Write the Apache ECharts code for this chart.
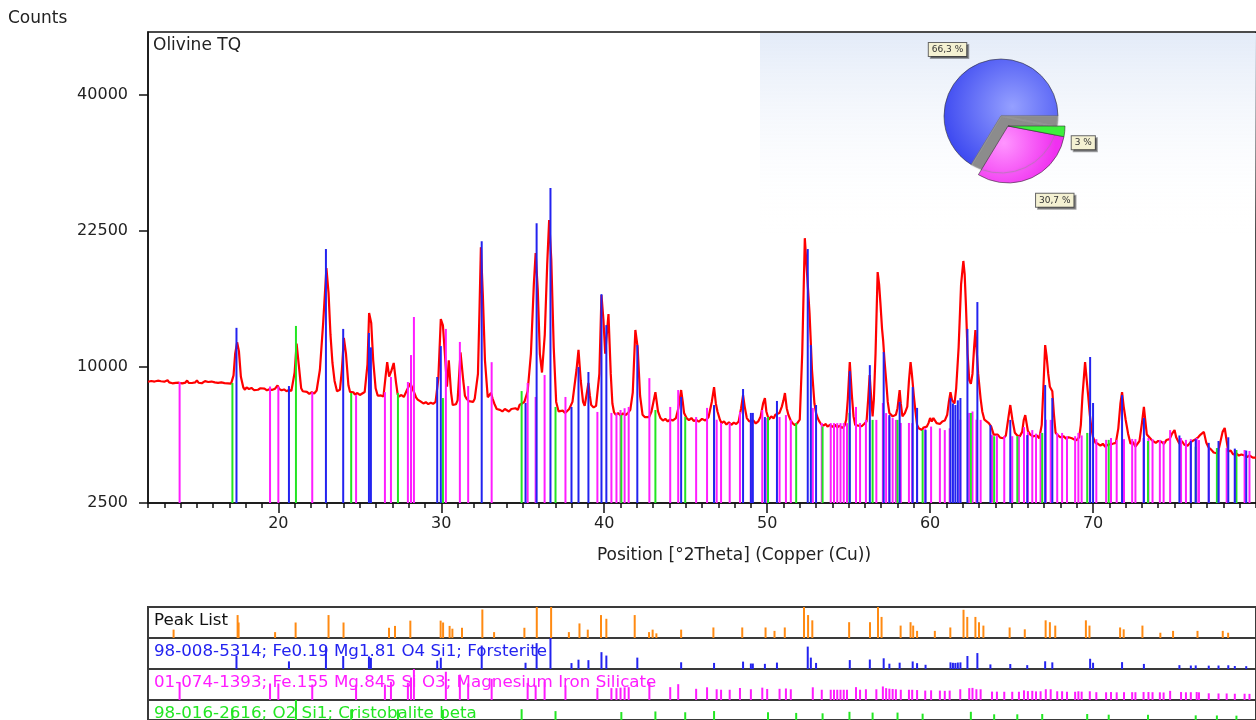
<!DOCTYPE html>
<html>
<head>
<meta charset="utf-8">
<script src="https://cdn.jsdelivr.net/npm/echarts@6/dist/echarts.min.js"></script>
<style>
html, body { margin: 0; padding: 0; background: #fff; }
#main { width: 1256px; height: 720px; }
</style>
</head>
<body>
<div id="main"></div>
<script>
// measured profile, [2theta, counts]
var profile = [[12.0,8950],[12.1,8820],[12.2,9000],[12.3,8870],[12.4,8960],[12.5,8850],[12.6,9020],[12.7,8900],[12.8,8980],[12.9,8860],[13.0,8950],[13.1,8880],[13.2,9050],[13.3,8900],[13.4,8960],[13.5,8840],[13.6,8930],[13.7,8870],[13.8,9000],[13.9,8880],[14.0,8940],[14.1,8830],[14.2,8960],[14.3,8890],[14.4,9030],[14.5,8870],[14.6,8950],[14.7,8860],[14.8,8980],[14.9,8900],[15.0,9040],[15.1,8880],[15.2,8950],[15.3,8840],[15.4,8920],[15.5,8990],[15.6,8860],[15.7,8930],[15.8,8820],[15.9,8960],[16.0,8850],[16.1,8900],[16.2,8800],[16.3,8870],[16.4,8780],[16.5,8900],[16.6,8790],[16.7,8850],[16.8,8760],[16.9,8840],[17.0,8770],[17.1,8820],
[17.25,9400],[17.35,11000],[17.47,11900],[17.58,11200],[17.7,9300],[17.85,8550],[17.95,8400],[18.05,8560],[18.2,8450],[18.35,8520],[18.5,8380],[18.6,8470],[18.75,8400],[18.9,8500],[19.0,8390],[19.15,8480],[19.3,8360],[19.45,8440],[19.6,8380],[19.8,8470],[19.95,8700],[20.05,8450],[20.2,8360],[20.35,8420],[20.5,8300],[20.65,8390],[20.8,8320],[20.9,8450],[21.0,9600],[21.12,11800],[21.25,10200],[21.4,8500],[21.5,8300],[21.6,8180],[21.75,8260],[21.9,8120],[22.05,8230],[22.2,8150],[22.35,8350],[22.55,9800],[22.75,13500],[22.95,18600],[23.08,16200],[23.2,12500],[23.32,10300],[23.45,9000],[23.6,8300],[23.7,8200],[23.78,8400],[23.9,9800],[24.02,12250],[24.15,11000],[24.3,8700],[24.4,8250],[24.5,8150],[24.6,8230],[24.7,8080],[24.85,8180],[25.0,8050],[25.15,8150],[25.3,8250],[25.47,10200],[25.57,14370],[25.7,13500],[25.82,10500],[25.97,8500],[26.1,8000],[26.2,7900],[26.3,8020],[26.45,7950],[26.58,9300],[26.68,10360],[26.8,9300],[26.93,9700],[27.08,10300],[27.22,8900],[27.32,8100],[27.4,7950],[27.55,8050],[27.7,7920],[27.9,8400],[28.1,8850],[28.3,8300],[28.45,7900],[28.55,7750],[28.7,7650],[28.8,7580],[28.9,7500],[29.05,7580],[29.2,7460],[29.35,7550],[29.5,7480],[29.65,7600],
[29.82,9200],[29.97,13830],[30.1,13300],[30.22,11000],[30.35,8600],[30.46,10500],[30.6,8200],[30.7,7400],[30.8,7300],[30.9,7450],[31.0,7700],[31.18,11100],[31.35,9000],[31.45,8000],[31.55,7800],[31.7,7650],[31.8,7700],[31.95,7600],[32.05,7800],[32.25,9500],[32.35,15000],[32.43,20760],[32.55,16000],[32.68,10500],[32.85,7900],[33.05,8180],[33.15,7800],[33.25,7500],[33.4,7150],[33.5,7050],[33.6,7100],[33.75,7000],[33.9,7150],[34.0,7120],[34.15,7000],[34.3,7150],[34.4,7080],[34.55,7200],[34.7,7100],[34.8,7400],[34.95,7500],[35.1,7600],[35.3,8300],[35.5,11000],[35.68,17000],[35.79,20140],[35.92,16500],[36.05,11000],[36.18,9600],[36.35,12500],[36.5,19000],[36.62,23720],[36.75,19500],[36.9,11500],
[37.05,7600],[37.2,7000],[37.3,6900],[37.45,7050],[37.6,6900],[37.7,7000],[37.85,7150],[38.05,7600],[38.3,9800],[38.42,11300],[38.56,9000],[38.7,7600],[38.8,7350],[38.95,8300],[39.03,8860],[39.12,8000],[39.2,7400],[39.35,7250],[39.5,7350],[39.7,9500],[39.83,16000],[39.95,13800],[40.06,11000],[40.26,14280],[40.4,9500],[40.5,7500],[40.6,6950],[40.7,6800],[40.85,6900],[41.0,6750],[41.15,6880],[41.3,6780],[41.45,6900],[41.6,7100],[41.75,8200],[41.91,12910],[42.05,11500],[42.2,8000],[42.35,6800],[42.5,6650],[42.6,6750],[42.75,6650],[42.9,7000],[43.0,7500],[43.14,8240],[43.3,7000],[43.45,6600],[43.6,6450],[43.75,6550],[43.9,6400],[44.05,6520],[44.2,6450],[44.4,6600],[44.55,7200],[44.72,8380],[44.82,7600],[44.9,6900],[45.05,6600],[45.2,6480],[45.35,6600],[45.5,6420],[45.65,6500],[45.8,6380],[46.0,6550],[46.2,6450],[46.4,6650],[46.6,7600],[46.74,8580],[46.85,7500],[46.95,7000],[47.1,6500],[47.2,6300],[47.35,6400],[47.5,6220],[47.65,6350],[47.8,6200],[47.95,6330],[48.1,6250],[48.25,6400],[48.4,7200],[48.52,8040],[48.62,7300],[48.75,6600],[48.9,6400],[49.0,6300],[49.15,6450],[49.3,6280],[49.45,6400],[49.6,6700],[49.75,7500],[49.86,7850],[49.95,7000],[50.1,6500],[50.25,6700],[50.4,6580],[50.5,6800],[50.6,6700],[50.75,6900],[50.9,7300],[51.0,7700],[51.09,8180],[51.2,7200],[51.3,6800],[51.45,6450],[51.55,6300],[51.7,6190],[51.85,6300],[52.0,6500],
[52.15,11000],[52.31,21720],[52.45,18000],[52.6,14370],[52.75,9800],[52.9,7500],[53.0,6900],[53.1,6600],[53.2,6400],[53.3,6250],[53.45,6150],[53.6,6250],[53.7,6100],[53.85,6200],[54.0,6080],[54.15,6200],[54.3,6050],[54.45,6150],[54.6,6020],[54.75,6150],[54.85,6500],[54.95,7800],[55.07,10360],[55.2,8000],[55.3,6700],[55.4,6200],[55.5,6300],[55.6,6150],[55.7,6250],[55.8,6120],[55.95,6250],[56.1,6400],[56.2,7800],[56.29,9420],[56.4,7600],[56.47,6700],[56.55,7800],[56.65,11000],[56.78,18200],[56.87,17000],[56.95,15250],[57.05,13000],[57.12,12000],[57.2,10500],[57.3,9060],[57.4,7600],[57.5,6900],[57.6,7000],[57.7,6700],[57.8,6600],[57.9,6800],[58.0,7200],[58.13,8380],[58.2,7500],[58.3,6700],[58.45,6900],[58.6,7300],[58.7,9000],[58.8,10360],[58.88,9500],[59.0,8000],[59.1,7000],[59.2,6200],[59.3,6000],[59.4,6100],[59.5,5900],[59.6,6050],[59.7,5950],[59.8,6100],[59.9,6300],[60.0,6600],[60.1,6400],[60.2,6600],[60.3,6450],[60.4,6300],[60.5,6400],[60.6,6250],[60.75,6400],[60.9,6450],[61.05,6800],[61.15,7600],[61.25,8240],[61.35,7700],[61.5,7500],[61.6,8500],[61.75,11500],[61.9,17000],[62.04,19320],[62.12,18000],[62.2,15000],[62.3,11000],[62.4,9060],[62.5,8800],[62.6,9500],[62.7,11500],[62.78,12900],[62.87,11000],[62.95,9500],[63.1,7800],[63.2,7000],[63.33,6500],[63.45,6400],[63.6,6300],[63.75,6100],[63.9,5650],[64.0,5550],[64.15,5650],[64.3,5480],[64.5,5450],[64.65,5600],[64.8,6600],[64.92,7400],[65.05,6500],[65.2,5750],[65.35,5600],[65.5,5550],[65.65,5800],[65.75,6500],[65.84,6780],[65.92,6300],[66.0,5850],[66.15,5650],[66.3,5550],[66.4,5500],[66.55,5600],[66.7,5450],[66.85,6200],[66.95,8500],[67.06,11680],[67.15,10800],[67.25,9500],[67.35,8600],[67.5,8300],[67.6,6800],[67.7,5750],[67.85,5600],[68.0,5500],[68.2,5550],[68.35,5420],[68.5,5500],[68.7,5450],[68.85,5380],[69.0,5350],[69.15,5500],[69.25,6200],[69.35,8000],[69.51,10360],[69.6,9200],[69.7,8000],[69.8,6800],[69.9,6000],[70.0,5500],[70.15,5200],[70.3,5150],[70.45,5050],[70.6,5150],[70.75,5000],[70.9,5100],[71.0,5050],[71.2,5150],[71.4,5200],[71.55,6000],[71.68,7500],[71.78,8240],[71.88,7300],[72.0,6500],[72.15,5700],[72.3,5150],[72.45,5250],[72.6,5000],[72.7,5000],[72.85,5300],[73.0,6300],[73.12,7280],[73.2,6500],[73.3,5650],[73.45,5500],[73.6,5350],[73.7,5350],[73.85,5200],[74.0,5300],[74.2,5250],[74.35,5150],[74.5,5350],[74.7,5400],[74.85,5700],[75.0,5900],[75.1,5500],[75.3,5150],[75.45,5300],[75.6,5100],[75.8,5050],[75.95,5200],[76.1,5300],[76.3,5400],[76.45,5500],[76.6,5650],[76.8,5800],[76.95,5200],[77.1,4950],[77.25,4850],[77.4,4700],[77.5,4750],[77.65,4650],[77.8,5200],[77.95,5800],[78.08,6020],[78.2,5300],[78.3,4750],[78.45,4800],[78.6,4600],[78.8,4650],[78.95,4550],[79.1,4600],[79.3,4550],[79.45,4480],[79.6,4550],[79.8,4450],[80.0,4450]];

// reference patterns, [2theta, counts at stick top]
var forsterite = [[17.43,13090],[20.65,8650],[22.92,20560],[23.98,13000],[25.56,12660],[25.68,11500],[29.75,9280],[29.97,11600],[32.48,21400],[35.17,7530],[35.85,23380],[36.7,27490],[37.99,7280],[38.42,10000],[39.03,9640],[39.83,16080],[40.13,13320],[42.03,11680],[44.72,7920],[46.74,7400],[48.52,8450],[49.0,6910],[49.12,6910],[49.86,6660],[50.6,7660],[52.49,20560],[52.68,11680],[53.0,7400],[55.07,9700],[56.3,10140],[57.15,11130],[57.5,6780],[58.13,7600],[58.93,8580],[59.2,7220],[59.72,5900],[61.25,7850],[61.4,7500],[61.55,7400],[61.7,7700],[61.86,7850],[62.29,13000],[62.9,15350],[63.7,6190],[64.92,6490],[65.96,5620],[67.06,8720],[67.5,7850],[69.82,10750],[70.0,7530],[71.78,8040],[73.12,6600],[75.3,5600],[76.0,5300],[76.3,5400],[77.1,5200],[77.7,5300],[78.3,5500],[78.7,4900],[79.4,4800]];

var mis = [[13.94,8930],[19.49,8620],[20.0,8620],[22.08,8240],[24.77,8040],[26.54,8240],[26.91,9280],[27.95,8930],[28.14,10900],[28.32,14020],[30.28,13000],[31.14,11930],[31.65,8650],[33.09,10360],[35.3,8860],[35.79,7920],[36.34,9420],[37.62,7920],[39.58,6970],[40.44,6910],[40.75,6910],[41.0,7090],[41.25,7200],[41.5,7280],[42.77,9200],[44.05,7280],[44.54,8380],[45.64,6660],[46.31,7220],[46.9,6500],[47.17,6310],[47.7,6310],[48.33,6970],[49.0,6500],[49.7,7090],[50.0,6600],[50.76,6660],[51.15,6780],[51.45,6490],[52.8,7220],[53.35,6310],[53.9,6300],[54.1,6300],[54.3,6300],[54.5,6300],[54.7,6300],[54.9,6300],[55.45,7280],[55.7,6310],[56.06,6490],[56.7,6490],[57.1,7530],[57.3,6900],[57.5,6700],[57.7,6600],[57.9,6490],[58.2,6310],[58.7,6310],[58.9,6300],[59.2,6200],[59.7,6000],[60.06,6100],[60.6,6000],[60.9,5900],[61.2,6000],[61.85,6500],[62.4,6910],[62.6,7000],[62.84,6500],[63.1,6490],[63.8,5620],[64.1,5600],[64.55,5560],[65.04,5560],[65.45,5560],[65.76,6070],[66.0,5800],[66.27,5900],[66.5,5700],[66.78,5740],[67.1,6500],[67.4,6490],[67.8,5740],[68.1,5740],[68.4,5560],[68.9,5560],[69.1,5740],[69.3,5600],[69.8,5740],[70.2,5400],[70.8,5360],[71.1,5460],[71.45,5360],[71.9,5400],[72.4,5410],[72.6,5400],[73.1,5460],[73.4,5460],[73.65,5400],[74.1,5360],[74.33,5300],[74.73,5900],[75.4,5460],[75.7,5360],[76.0,5400],[76.36,5460],[76.5,5350],[77.1,4990],[77.7,4930],[78.2,4930],[78.7,4830],[79.3,4830],[79.6,4780]];

var cristobalite = [[17.18,8860],[21.08,13250],[24.47,8180],[27.34,8180],[30.1,7850],[34.93,8310],[37.01,7280],[41.05,6780],[43.14,7090],[44.97,6660],[46.74,7300],[50.05,6660],[51.78,6310],[53.4,6100],[55.05,6910],[56.47,6490],[58.0,6490],[59.54,5900],[62.5,6910],[63.93,5560],[65.35,5560],[66.88,5740],[69.64,5740],[70.96,5360],[73.37,5300],[76.3,5000],[77.6,4930],[78.8,4830]];

// peak list, [2theta, relative intensity %]
var peakList = [[13.57,27],[17.5,74],[17.56,50],[19.8,19],[21.06,50],[23.08,74],[24.0,50],[26.79,33],[27.16,39],[28.1,56],[29.96,56],[30.11,50],[30.51,39],[30.68,30],[31.27,33],[32.52,92],[33.24,19],[35.1,33],[35.86,100],[36.74,105],[37.83,19],[38.48,47],[38.99,27],[39.8,74],[40.13,62],[41.87,74],[42.75,19],[42.97,27],[43.2,15],[44.72,27],[46.7,34],[48.47,34],[49.9,34],[50.45,23],[51.08,34],[52.26,100],[52.51,74],[52.77,57],[55.03,51],[56.31,51],[56.8,100],[57.02,68],[58.19,40],[58.8,51],[58.96,40],[59.2,23],[60.29,23],[61.24,34],[62.05,91],[62.28,68],[62.78,68],[63.0,51],[63.27,40],[64.88,34],[65.81,28],[67.09,57],[67.35,51],[67.68,40],[69.56,57],[69.78,40],[71.66,34],[71.88,28],[73.03,40],[74.13,17],[74.91,23],[76.41,23],[77.96,23],[78.29,17]];

// phase fractions (%)
var phaseNames = ['Forsterite', 'Magnesium Iron Silicate', 'Cristobalite beta'];
var phaseShares = [66.3, 30.7, 3];

// tick labels
var xMajor = [20, 30, 40, 50, 60, 70];
var yTicks = [2500, 10000, 22500, 40000];

var xMinor = [];
for (var d = 12; d <= 80; d++) xMinor.push(d);

var FONT = 'DejaVu Sans';
var BLUE = '#2323f0', PINK = '#ff1cff', GREEN = '#22e622', ORANGE = '#ff8a12';

function sq(arr) {
    return arr.map(function (p) { return [p[0], Math.sqrt(p[1])]; });
}

// vertical sticks from base up to value
function sticks(data, color, xi, yi, base) {
    return {
        type: 'custom',
        xAxisIndex: xi,
        yAxisIndex: yi,
        z: 3,
        clip: true,
        data: data,
        encode: { x: 0, y: 1 },
        renderItem: function (params, api) {
            var x = api.value(0);
            var p1 = api.coord([x, base]);
            var p2 = api.coord([x, api.value(1)]);
            return {
                type: 'line',
                shape: { x1: p1[0], y1: p1[1], x2: p2[0], y2: p2[1] },
                style: { stroke: color, lineWidth: 2 }
            };
        }
    };
}

function maxOf(arr) {
    var m = 0;
    arr.forEach(function (p) { if (p[1] > m) m = p[1]; });
    return m;
}

var lowerRows = [
    { text: 'Peak List', color: '#111', data: peakList, color2: ORANGE, min: 0, max: 100 },
    { text: '98-008-5314; Fe0.19 Mg1.81 O4 Si1; Forsterite', color: BLUE, data: forsterite, color2: BLUE, min: 2500, max: maxOf(forsterite) },
    { text: '01-074-1393; Fe.155 Mg.845 Si O3; Magnesium Iron Silicate', color: PINK, data: mis, color2: PINK, min: 2500, max: maxOf(mis) },
    { text: '98-016-2616; O2 Si1; Cristobalite beta', color: GREEN, data: cristobalite, color2: GREEN, min: 2500, max: maxOf(cristobalite) }
];

var grids = [{ left: 148, right: -4, top: 32, height: 471, show: true, borderColor: '#111', borderWidth: 1.5 }];
var xAxes = [{
    type: 'value', gridIndex: 0, min: 12, max: 80, position: 'bottom',
    axisLine: { lineStyle: { color: '#111', width: 1.5 } },
    axisTick: { customValues: xMajor, length: 10, lineStyle: { color: '#111', width: 1.5 } },
    axisLabel: { customValues: xMajor, margin: 13, fontSize: 16, color: '#222', fontFamily: FONT },
    splitLine: { show: false }
}, {
    type: 'value', gridIndex: 0, min: 12, max: 80, position: 'bottom', offset: 0,
    axisLine: { show: false },
    axisTick: { customValues: xMinor, length: 5, lineStyle: { color: '#111', width: 1.5 } },
    axisLabel: { show: false },
    splitLine: { show: false }
}];
var yAxes = [{
    type: 'value', gridIndex: 0, min: 50, max: 223.2,
    axisLine: { show: true, lineStyle: { color: '#111', width: 1.5 } },
    axisTick: { customValues: yTicks.map(Math.sqrt), length: 9, lineStyle: { color: '#111', width: 1.5 } },
    axisLabel: {
        customValues: yTicks.map(Math.sqrt), margin: 20, fontSize: 16, color: '#222', fontFamily: FONT,
        formatter: function (v) { return String(Math.round(v * v)); }
    },
    splitLine: { show: false }
}];

var series = [{
    type: 'line',
    xAxisIndex: 0, yAxisIndex: 0,
    data: sq(profile),
    showSymbol: false,
    z: 2,
    lineStyle: { color: '#ff0000', width: 2.2 },
    animation: false
},
    sticks(sq(mis), PINK, 0, 0, 50),
    sticks(sq(cristobalite), GREEN, 0, 0, 50),
    sticks(sq(forsterite), BLUE, 0, 0, 50)
];

var graphics = [
    {
        type: 'rect', z: 0, silent: true,
        shape: { x: 760, y: 33, width: 500, height: 200 },
        style: {
            fill: new echarts.graphic.LinearGradient(0, 0, 0, 1, [
                { offset: 0, color: '#e3ebf8' },
                { offset: 1, color: 'rgba(255,255,255,0)' }
            ])
        }
    },
    { type: 'text', x: 8, y: 19, style: { text: 'Counts', font: '17px ' + FONT, fill: '#222', textVerticalAlign: 'middle' } },
    { type: 'text', x: 153, y: 46, z: 5, style: { text: 'Olivine TQ', font: '17px ' + FONT, fill: '#222', textVerticalAlign: 'middle' } },
    { type: 'text', x: 734, y: 556, style: { text: 'Position [°2Theta] (Copper (Cu))', font: '17px ' + FONT, fill: '#222', textAlign: 'center', textVerticalAlign: 'middle' } }
];

lowerRows.forEach(function (r, i) {
    var top = 607 + 31 * i;
    grids.push({ left: 148, right: -4, top: top, height: 31, show: true, borderColor: '#3a3a3a', borderWidth: 2 });
    xAxes.push({ type: 'value', gridIndex: i + 1, min: 12, max: 80, show: false });
    yAxes.push({ type: 'value', gridIndex: i + 1, min: r.min, max: r.max, show: false });
    series.push(sticks(r.data, r.color2, i + 2, i + 1, r.min));
    graphics.push({
        type: 'text', x: 154, y: top + 14, z: 1,
        style: { text: r.text, font: '16.7px ' + FONT, fill: r.color, textVerticalAlign: 'middle' }
    });
});

// phase pie: blue part in place, the other two pulled out
var pieLabel = {
    show: true,
    fontSize: 9,
    color: '#333',
    backgroundColor: '#f4f1d2',
    borderColor: '#666',
    borderWidth: 1,
    padding: [2, 3],
    shadowColor: 'rgba(0,0,0,0.35)',
    shadowOffsetX: 2,
    shadowOffsetY: 2,
    formatter: function (p) { return String(p.value).replace('.', ',') + ' %'; }
};
var pieColors = [
    new echarts.graphic.RadialGradient(0.6, 0.45, 0.7, [{ offset: 0, color: '#95a0ff' }, { offset: 1, color: '#3a46f0' }]),
    new echarts.graphic.RadialGradient(0.3, 0.3, 0.9, [{ offset: 0, color: '#ff95ff' }, { offset: 1, color: '#f030f0' }]),
    '#3cf03c'
];

function pieData(showIdx) {
    return phaseNames.map(function (n, i) {
        var on = showIdx.indexOf(i) >= 0;
        var item = {
            name: n,
            value: phaseShares[i],
            itemStyle: on ? { color: pieColors[i], borderColor: '#333', borderWidth: 0.6 } : { color: 'rgba(0,0,0,0)', borderWidth: 0 },
            label: on ? {} : { show: false }
        };
        if (on && i > 0) {
            item.itemStyle.shadowColor = '#8c8c8c';
            item.itemStyle.shadowBlur = 1;
            item.itemStyle.shadowOffsetX = -7;
            item.itemStyle.shadowOffsetY = -10;
        }
        if (i === 2) item.labelLine = { length: 4, length2: 0 };
        return item;
    });
}

series.push({
    type: 'pie', center: [1001, 116], radius: 57, startAngle: 0, clockwise: false,
    avoidLabelOverlap: false, silent: true, z: 4,
    label: pieLabel, labelLine: { show: false, length: 18, length2: 0 },
    labelLayout: { dx: 7, dy: -1 },
    data: pieData([0])
});
series.push({
    type: 'pie', center: [1008, 126], radius: 57, startAngle: 0, clockwise: false,
    avoidLabelOverlap: false, silent: true, z: 4,
    label: pieLabel, labelLine: { show: false, length: 22, length2: 0 },
    labelLayout: function (p) { return p.dataIndex === 2 ? { dx: -2, dy: 11 } : { dx: -9, dy: 2 }; },
    data: pieData([1, 2])
});

var option = {
    animation: false,
    textStyle: { fontFamily: FONT },
    grid: grids,
    xAxis: xAxes,
    yAxis: yAxes,
    graphic: graphics,
    series: series
};

var myChart = echarts.init(document.getElementById('main'));
myChart.setOption(option);
window.onresize = myChart.resize;
</script>
</body>
</html>
